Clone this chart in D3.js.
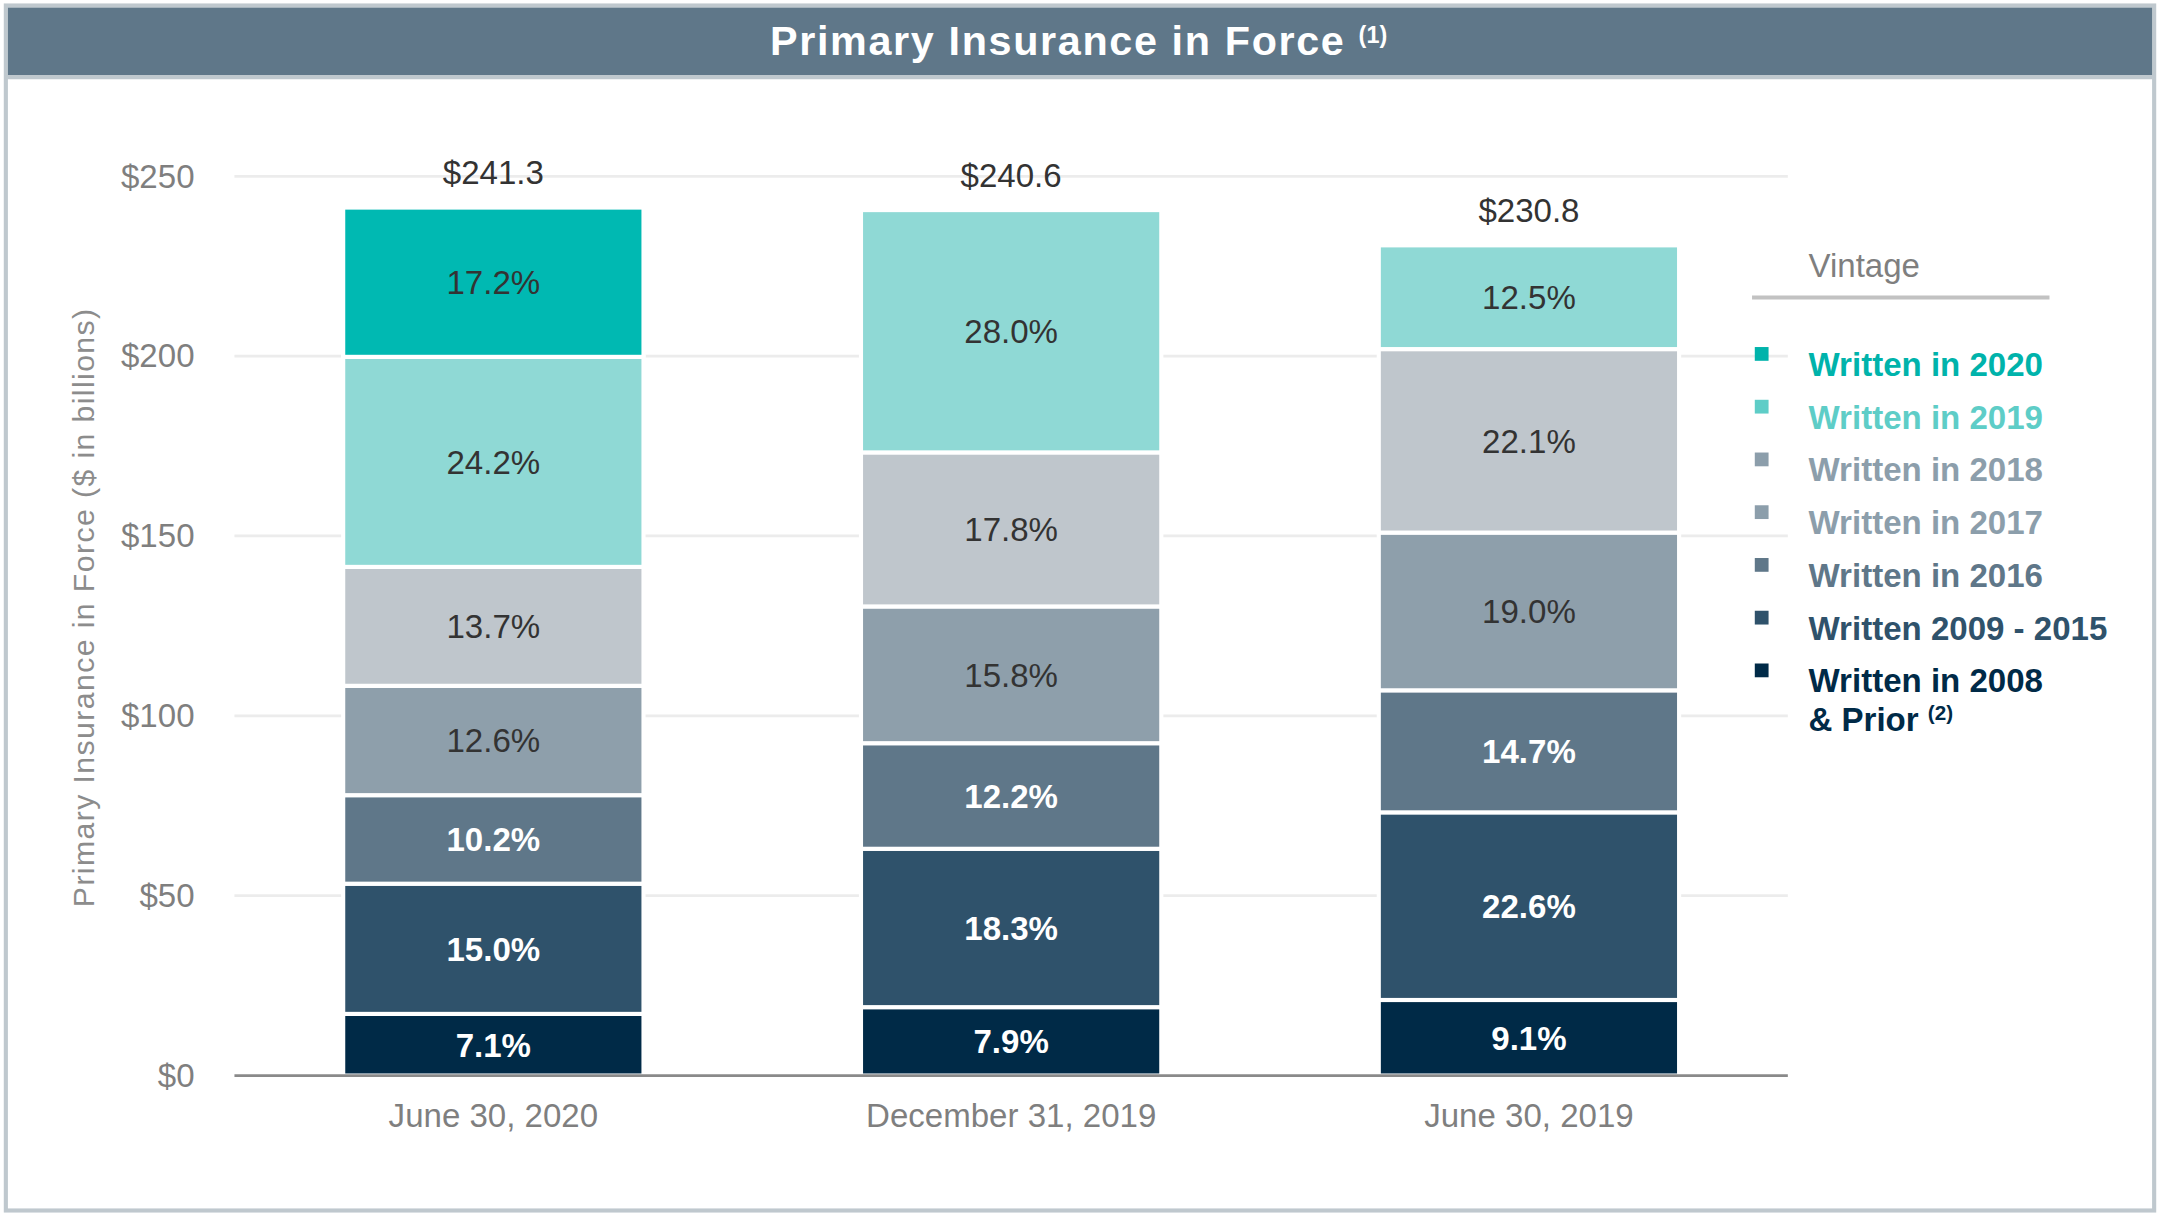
<!DOCTYPE html>
<html>
<head>
<meta charset="utf-8">
<script src="https://cdn.jsdelivr.net/npm/d3@7"></script>
<style>
	body { margin: 0; background: #fff; }
	text { font-family: "Liberation Sans", Arial, sans-serif; }
</style>
</head>
<body>
<svg id="chart"></svg>
<script>
// values
const periods = ["June 30, 2020", "December 31, 2019", "June 30, 2019"];
const totals = [241.3, 240.6, 230.8];
const vintages = ["v2008", "v2009_2015", "v2016", "v2017", "v2018", "v2019", "v2020"];
const share2008 = [7.1, 7.9, 9.1];
const share2009_2015 = [15.0, 18.3, 22.6];
const share2016 = [10.2, 12.2, 14.7];
const share2017 = [12.6, 15.8, 19.0];
const share2018 = [13.7, 17.8, 22.1];
const share2019 = [24.2, 28.0, 12.5];
const share2020 = [17.2, 0, 0];
const legendLabels = ["Written in 2020", "Written in 2019", "Written in 2018", "Written in 2017", "Written in 2016", "Written 2009 - 2015", "Written in 2008"];
const yTicks = [0, 50, 100, 150, 200, 250];

const shares = {
	v2008: share2008, v2009_2015: share2009_2015, v2016: share2016,
	v2017: share2017, v2018: share2018, v2019: share2019, v2020: share2020
};
const fills = {
	v2008: "#002a47", v2009_2015: "#2f526b", v2016: "#5f7789", v2017: "#8e9fab",
	v2018: "#bfc6cc", v2019: "#8fd9d5", v2020: "#00b9b2"
};
const legendColors = ["#00b3ab", "#5ecdc7", "#8c9eab", "#8c9eab", "#5f7789", "#2f526b", "#002a47"];
const darkLabel = ["v2017", "v2018", "v2019", "v2020"];

// slide is laid out in 1568 x 883 units and scaled up to the window
const W = 1568, H = 883;
const svg = d3.select("#chart")
	.attr("width", 2160).attr("height", 1216)
	.attr("viewBox", `0 0 ${W} ${H}`);

// frame + title bar
svg.append("rect").attr("x", 4).attr("y", 4).attr("width", 1560).attr("height", 875)
	.attr("fill", "#fff").attr("stroke", "#bfc8ce").attr("stroke-width", 3);
svg.append("rect").attr("x", 5.5).attr("y", 5.5).attr("width", 1557).attr("height", 49)
	.attr("fill", "#5f7789");
svg.append("line").attr("x1", 5).attr("x2", 1563).attr("y1", 56).attr("y2", 56)
	.attr("stroke", "#bfc8ce").attr("stroke-width", 3);
const title = svg.append("text").attr("x", 783).attr("y", 40)
	.attr("text-anchor", "middle").attr("fill", "#fff")
	.attr("font-size", 30).attr("font-weight", "bold").attr("letter-spacing", 1.2);
title.append("tspan").text("Primary Insurance in Force ");
title.append("tspan").attr("font-size", 17).attr("dy", -9).attr("letter-spacing", 0).text("(1)");

const rows = periods.map((p, i) => {
	const row = { period: p, total: totals[i] };
	vintages.forEach(v => { row[v] = totals[i] * shares[v][i] / 100; });
	return row;
});

const x = d3.scaleBand().domain(periods).range([170, 1298]).paddingInner(0.42).paddingOuter(0.21);
const y = d3.scaleLinear().domain([0, 250]).range([781, 128]);

// gridlines
svg.append("g").selectAll("line").data(yTicks.slice(1)).join("line")
	.attr("x1", 170).attr("x2", 1298)
	.attr("y1", d => y(d)).attr("y2", d => y(d))
	.attr("stroke", "#ececec").attr("stroke-width", 2);

// y axis labels
const yAxis = svg.append("g").attr("transform", "translate(170,0)")
	.call(d3.axisLeft(y).tickValues(yTicks).tickFormat(d => "$" + d).tickSize(0).tickPadding(29));
yAxis.select(".domain").remove();
yAxis.selectAll("text").attr("font-size", 24).attr("fill", "#7f7f7f")
	.attr("font-family", "Liberation Sans, Arial, sans-serif");

svg.append("text")
	.attr("transform", "translate(68,441) rotate(-90)")
	.attr("text-anchor", "middle").attr("fill", "#8c8c8c")
	.attr("font-size", 22).attr("letter-spacing", 1)
	.text("Primary Insurance in Force ($ in billions)");

// stacked bars
const series = d3.stack().keys(vintages)(rows);
const layer = svg.append("g").selectAll("g").data(series).join("g")
	.attr("fill", d => fills[d.key]);

layer.selectAll("rect").data(d => d.filter(s => s[1] - s[0] > 0)).join("rect")
	.attr("x", d => x(d.data.period))
	.attr("width", x.bandwidth())
	.attr("y", d => y(d[1]))
	.attr("height", d => y(d[0]) - y(d[1]))
	.attr("stroke", "#fff").attr("stroke-width", 3);

layer.each(function (s) {
	const dark = darkLabel.includes(s.key);
	d3.select(this).selectAll("text").data(s.filter(d => d[1] - d[0] > 0)).join("text")
		.attr("x", d => x(d.data.period) + x.bandwidth() / 2)
		.attr("y", d => (y(d[0]) + y(d[1])) / 2)
		.attr("dy", "0.36em")
		.attr("text-anchor", "middle")
		.attr("font-size", 24)
		.attr("font-weight", dark ? "normal" : "bold")
		.attr("fill", dark ? "#333333" : "#ffffff")
		.text(d => shares[s.key][periods.indexOf(d.data.period)].toFixed(1) + "%");
});

// baseline
svg.append("line").attr("x1", 170).attr("x2", 1298).attr("y1", y(0)).attr("y2", y(0))
	.attr("stroke", "#8a8a8a").attr("stroke-width", 2);

// totals on top
svg.append("g").selectAll("text").data(rows).join("text")
	.attr("x", d => x(d.period) + x.bandwidth() / 2)
	.attr("y", d => y(d.total) - 17)
	.attr("text-anchor", "middle").attr("font-size", 24).attr("fill", "#333")
	.text(d => "$" + d.total.toFixed(1));

// x axis labels
const xAxis = svg.append("g").attr("transform", `translate(0,${y(0)})`)
	.call(d3.axisBottom(x).tickSize(0).tickPadding(20));
xAxis.select(".domain").remove();
xAxis.selectAll("text").attr("font-size", 24).attr("fill", "#7f7f7f")
	.attr("font-family", "Liberation Sans, Arial, sans-serif");

// legend
svg.append("text").attr("x", 1313).attr("y", 201).attr("font-size", 24).attr("fill", "#7f7f7f").text("Vintage");
svg.append("line").attr("x1", 1272).attr("x2", 1488).attr("y1", 216).attr("y2", 216)
	.attr("stroke", "#c2c2c2").attr("stroke-width", 3);

const step = 38.3;
const legend = svg.append("g").selectAll("g").data(legendLabels).join("g")
	.attr("transform", (d, i) => `translate(1274,${257 + i * step})`);
legend.append("rect").attr("x", 0).attr("y", -5).attr("width", 10).attr("height", 10)
	.attr("fill", (d, i) => legendColors[i]);
legend.append("text").attr("x", 39).attr("y", 16)
	.attr("font-size", 24).attr("font-weight", "bold")
	.attr("fill", (d, i) => legendColors[i])
	.text(d => d);

const prior = svg.append("text").attr("x", 1313).attr("y", 257 + 6 * step + 16 + 28)
	.attr("font-size", 24).attr("font-weight", "bold").attr("fill", legendColors[6]);
prior.append("tspan").text("& Prior ");
prior.append("tspan").attr("font-size", 15).attr("dy", -8).text("(2)");
</script>
</body>
</html>
